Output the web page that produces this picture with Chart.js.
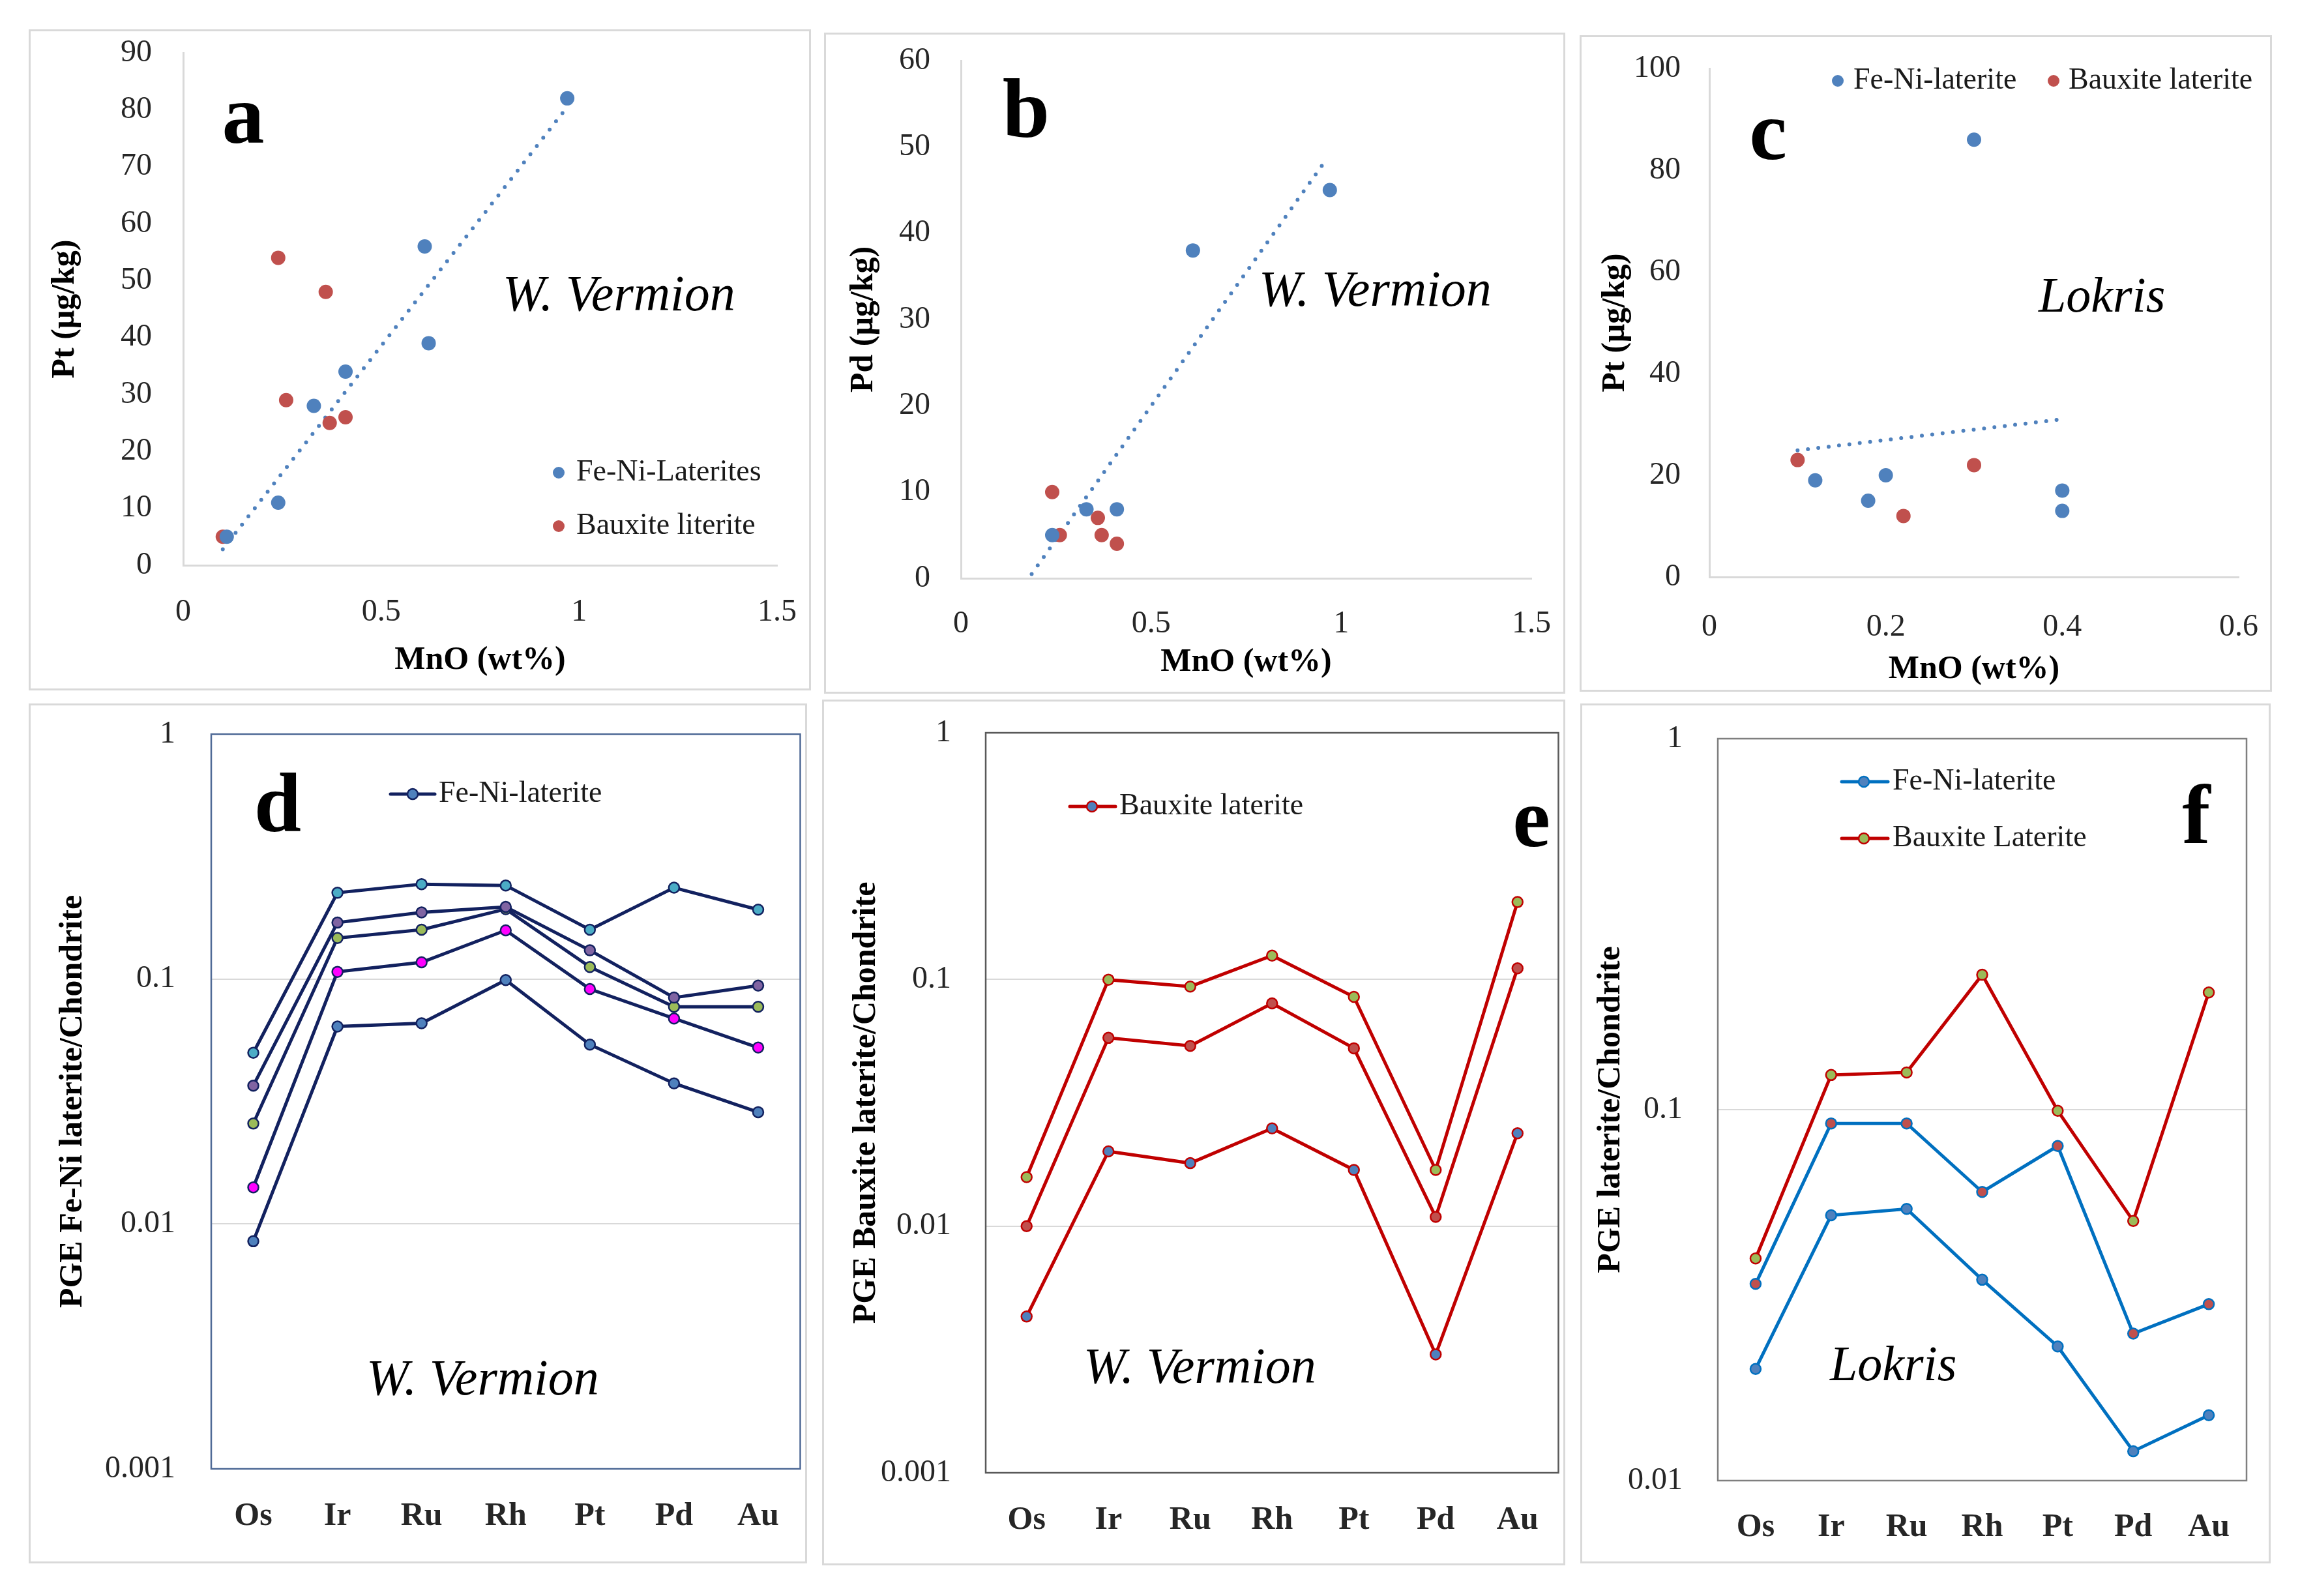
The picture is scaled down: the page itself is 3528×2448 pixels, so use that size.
<!DOCTYPE html>
<html lang="en">
<head>
<meta charset="UTF-8">
<title>PGE and MnO in W. Vermion and Lokris laterites</title>
<script src="https://cdn.jsdelivr.net/npm/chart.js@4.4.1/dist/chart.umd.min.js"></script>
<style>
    html, body { margin: 0; padding: 0; background: #fff; }
    body { width: 3528px; height: 2448px; position: relative; overflow: hidden; }
    canvas { position: absolute; }
</style>
</head>
<body>
<canvas id="chartA"></canvas>
<canvas id="chartB"></canvas>
<canvas id="chartC"></canvas>
<canvas id="chartD"></canvas>
<canvas id="chartE"></canvas>
<canvas id="chartF"></canvas>
<script>
// ---- data ----
// a: W. Vermion, Pt vs MnO
const aFeNiX = [0.97, 0.61, 0.62, 0.41, 0.33, 0.24, 0.11];
const aFeNiY = [82, 56, 39, 34, 28, 11, 5];
const aBauxX = [0.24, 0.36, 0.26, 0.37, 0.41, 0.10];
const aBauxY = [54, 48, 29, 25, 26, 5];
const aTrendX = [0.10, 0.96];
const aTrendY = [2.8, 79.6];

// b: W. Vermion, Pd vs MnO
const bFeNiX = [0.97, 0.61, 0.33, 0.41, 0.24];
const bFeNiY = [45, 38, 8, 8, 5];
const bBauxX = [0.24, 0.26, 0.36, 0.37, 0.41];
const bBauxY = [10, 5, 7, 5, 4];
const bTrendX = [0.186, 0.96];
const bTrendY = [0.5, 48.5];

// c: Lokris, Pt vs MnO
const cFeNiX = [0.30, 0.12, 0.18, 0.20, 0.40, 0.40];
const cFeNiY = [86, 19, 15, 20, 17, 13];
const cBauxX = [0.10, 0.22, 0.30];
const cBauxY = [23, 12, 22];
const cTrendX = [0.10, 0.394];
const cTrendY = [24.9, 30.9];

// d-f: chondrite normalised PGE patterns
const elements = ['Os', 'Ir', 'Ru', 'Rh', 'Pt', 'Pd', 'Au'];
const logTicks3 = [0.001, 0.01, 0.1, 1];
const logTicks2 = [0.01, 0.1, 1];

const dFeNi1 = [0.050, 0.225, 0.244, 0.241, 0.159, 0.236, 0.192];
const dFeNi2 = [0.0367, 0.170, 0.187, 0.197, 0.131, 0.084, 0.094];
const dFeNi3 = [0.0257, 0.147, 0.159, 0.193, 0.112, 0.077, 0.077];
const dFeNi4 = [0.0141, 0.107, 0.117, 0.158, 0.091, 0.069, 0.0525];
const dFeNi5 = [0.0085, 0.064, 0.066, 0.099, 0.054, 0.0375, 0.0286];

const eBaux1 = [0.0158, 0.0998, 0.0936, 0.125, 0.085, 0.0169, 0.206];
const eBaux2 = [0.0100, 0.058, 0.0538, 0.080, 0.0526, 0.0109, 0.111];
const eBaux3 = [0.0043, 0.0201, 0.018, 0.0249, 0.0169, 0.00302, 0.0238];

const fBaux = [0.0397, 0.124, 0.126, 0.231, 0.0993, 0.0501, 0.207];
const fFeNi1 = [0.0339, 0.0918, 0.0918, 0.060, 0.0798, 0.0249, 0.0299];
const fFeNi2 = [0.0200, 0.0519, 0.054, 0.0348, 0.0230, 0.0120, 0.0150];

// ---- styling ----
const serif = '"Liberation Serif", "Times New Roman", serif';
const blue = '#4F81BD';
const red = '#C0504D';
const navy = '#12215F';
const darkRed = '#C00000';
const lineBlue = '#0070C0';
const tickColor = '#262626';

const pts = (xs, ys) => xs.map((x, i) => ({ x: x, y: ys[i] }));

// panel frame, plot frame, in-plot legend and labels
const decor = {
    id: 'decor',
    beforeDraw(chart) {
        const c = chart.ctx;
        c.save();
        c.fillStyle = '#ffffff';
        c.fillRect(0, 0, chart.width, chart.height);
        c.strokeStyle = '#d9d9d9';
        c.lineWidth = 3;
        c.strokeRect(1.5, 1.5, chart.width - 3, chart.height - 3);
        c.restore();
    },
    beforeDatasetsDraw(chart, args, o) {
        if (!o.frame) return;
        const a = chart.chartArea, c = chart.ctx;
        c.save();
        c.strokeStyle = o.frame;
        c.lineWidth = 2.5;
        c.strokeRect(a.left, a.top, a.right - a.left, a.bottom - a.top);
        c.restore();
    },
    afterDraw(chart, args, o) {
        const c = chart.ctx;
        c.save();
        (o.legend || []).forEach(it => {
            if (it.line) {
                c.strokeStyle = it.line;
                c.lineWidth = 5;
                c.lineCap = 'round';
                c.beginPath();
                c.moveTo(it.x1, it.y);
                c.lineTo(it.x2, it.y);
                c.stroke();
            }
            c.beginPath();
            c.arc(it.mx, it.y, it.r, 0, Math.PI * 2);
            c.fillStyle = it.fill;
            c.fill();
            if (it.border) {
                c.strokeStyle = it.border;
                c.lineWidth = 2.5;
                c.stroke();
            }
            c.fillStyle = '#1a1a1a';
            c.font = '46px ' + serif;
            c.textAlign = 'left';
            c.textBaseline = 'middle';
            c.fillText(it.text, it.tx, it.y);
        });
        (o.labels || []).forEach(l => {
            c.fillStyle = '#000';
            c.font = l.font;
            c.textAlign = l.align || 'left';
            c.textBaseline = 'middle';
            c.fillText(l.text, l.x, l.y);
        });
        c.restore();
    }
};

function setup(id, box) {
    const cv = document.getElementById(id);
    cv.width = box.w;
    cv.height = box.h;
    cv.style.left = box.left + 'px';
    cv.style.top = box.top + 'px';
    cv.style.width = box.w + 'px';
    cv.style.height = box.h + 'px';
    return cv;
}

function baseOptions(box, area, decorOpts) {
    return {
        responsive: false,
        animation: false,
        devicePixelRatio: 1,
        events: [],
        layout: { padding: { left: 0, top: area.t, right: box.w - area.r, bottom: 0 } },
        plugins: { legend: { display: false }, tooltip: { enabled: false }, decor: decorOpts }
    };
}

// fixed axis boxes so the plot area sits where it does in the figure
function fitX(box, area) {
    return s => { s.height = box.h - area.b; s.paddingLeft = 0; s.paddingRight = 0; };
}
function fitY(area) {
    return s => { s.width = area.l; s.paddingTop = 0; s.paddingBottom = 0; };
}

function scatterPanel(id, box, area, ax, sets, decorOpts) {
    const cv = setup(id, box);
    const opts = baseOptions(box, area, decorOpts);
    opts.scales = {
        x: {
            type: 'linear', min: ax.xMin, max: ax.xMax,
            ticks: { stepSize: ax.xStep, padding: ax.xPad, color: tickColor, font: { family: serif, size: 48 },
                     callback: v => String(Math.round(v * 100) / 100) },
            grid: { display: false, drawTicks: false },
            border: { display: true, color: '#d9d9d9', width: 3 },
            title: { display: true, text: 'MnO (wt%)', color: '#000', font: { family: serif, size: 50, weight: 'bold' }, padding: { top: 0, bottom: ax.xTitlePad } },
            afterFit: fitX(box, area)
        },
        y: {
            type: 'linear', min: ax.yMin, max: ax.yMax,
            ticks: { stepSize: ax.yStep, padding: ax.yPad, color: tickColor, font: { family: serif, size: 48 } },
            grid: { display: false, drawTicks: false },
            border: { display: true, color: '#d9d9d9', width: 3 },
            title: { display: true, text: ax.yTitle, color: '#000', font: { family: serif, size: 50, weight: 'bold' }, padding: { top: ax.yTitlePad, bottom: 0 } },
            afterFit: fitY(area)
        }
    };
    return new Chart(cv, {
        type: 'scatter',
        data: {
            datasets: [
                { label: sets.feLabel, data: sets.fe, pointRadius: 11, pointBackgroundColor: blue, pointBorderWidth: 0 },
                { label: sets.bxLabel, data: sets.bx, pointRadius: 11, pointBackgroundColor: red, pointBorderWidth: 0 },
                { label: 'Linear trend', data: sets.trend, showLine: true, pointRadius: 0, borderColor: blue, borderWidth: 6, borderDash: [0, 16], borderCapStyle: 'round' }
            ]
        },
        options: opts,
        plugins: [decor]
    });
}

function patternPanel(id, box, area, ax, datasets, decorOpts) {
    const cv = setup(id, box);
    const opts = baseOptions(box, area, decorOpts);
    opts.scales = {
        x: {
            type: 'category', offset: true,
            ticks: { padding: ax.xPad, color: tickColor, font: { family: serif, size: 50, weight: 'bold' } },
            grid: { display: false, drawTicks: false },
            border: { display: false },
            afterFit: fitX(box, area)
        },
        y: {
            type: 'logarithmic', min: ax.yMin, max: ax.yMax,
            afterBuildTicks: s => { s.ticks = ax.yTicks.map(v => ({ value: v })); },
            ticks: { padding: ax.yPad, color: tickColor, font: { family: serif, size: 48 }, callback: v => String(v) },
            grid: { color: '#d9d9d9', lineWidth: 2, drawTicks: false },
            border: { display: false },
            title: { display: true, text: ax.yTitle, color: '#000', font: { family: serif, size: 50, weight: 'bold' }, padding: { top: ax.yTitlePad, bottom: 0 } },
            afterFit: fitY(area)
        }
    };
    return new Chart(cv, {
        type: 'line',
        data: { labels: elements, datasets: datasets },
        options: opts,
        plugins: [decor]
    });
}

function patternSet(label, values, lineColor, fill, border) {
    return {
        label: label, data: values, borderColor: lineColor, borderWidth: 5, tension: 0, fill: false,
        pointRadius: 8, pointBackgroundColor: fill, pointBorderColor: border, pointBorderWidth: 2.5
    };
}

const bigFont = 'bold 130px ' + serif;
const placeFont = 'italic 78px ' + serif;

// ---- a ----
scatterPanel('chartA',
    { left: 44, top: 45, w: 1200, h: 1014 },
    { l: 237, t: 36, r: 1148, b: 822 },
    { xMin: 0, xMax: 1.5, xStep: 0.5, yMin: 0, yMax: 90, yStep: 10, xPad: 44, yPad: 48, xTitlePad: 16, yTitlePad: 26, yTitle: 'Pt (μg/kg)' },
    { fe: pts(aFeNiX, aFeNiY), bx: pts(aBauxX, aBauxY), trend: pts(aTrendX, aTrendY), feLabel: 'Fe-Ni-Laterites', bxLabel: 'Bauxite literite' },
    {
        legend: [
            { mx: 813, y: 680, r: 9, fill: blue, text: 'Fe-Ni-Laterites', tx: 840 },
            { mx: 813, y: 762, r: 9, fill: red, text: 'Bauxite literite', tx: 840 }
        ],
        labels: [
            { text: 'a', x: 329, y: 140, font: bigFont, align: 'center' },
            { text: 'W. Vermion', x: 727, y: 410, font: placeFont }
        ]
    });

// ---- b ----
scatterPanel('chartB',
    { left: 1264, top: 50, w: 1137, h: 1014 },
    { l: 210, t: 43, r: 1085, b: 837 },
    { xMin: 0, xMax: 1.5, xStep: 0.5, yMin: 0, yMax: 60, yStep: 10, xPad: 42, yPad: 47, xTitlePad: 18, yTitlePad: 31, yTitle: 'Pd (μg/kg)' },
    { fe: pts(bFeNiX, bFeNiY), bx: pts(bBauxX, bBauxY), trend: pts(bTrendX, bTrendY), feLabel: 'Fe-Ni-Laterites', bxLabel: 'Bauxite literite' },
    {
        labels: [
            { text: 'b', x: 310, y: 126, font: bigFont, align: 'center' },
            { text: 'W. Vermion', x: 667, y: 398, font: placeFont }
        ]
    });

// ---- c ----
scatterPanel('chartC',
    { left: 2423, top: 54, w: 1062, h: 1007 },
    { l: 199, t: 51, r: 1011, b: 831 },
    { xMin: 0, xMax: 0.6, xStep: 0.2, yMin: 0, yMax: 100, yStep: 20, xPad: 49, yPad: 44, xTitlePad: 4, yTitlePad: 25, yTitle: 'Pt (μg/kg)' },
    { fe: pts(cFeNiX, cFeNiY), bx: pts(cBauxX, cBauxY), trend: pts(cTrendX, cTrendY), feLabel: 'Fe-Ni-laterite', bxLabel: 'Bauxite laterite' },
    {
        legend: [
            { mx: 396, y: 70, r: 9, fill: blue, text: 'Fe-Ni-laterite', tx: 420 },
            { mx: 727, y: 70, r: 9, fill: red, text: 'Bauxite laterite', tx: 750 }
        ],
        labels: [
            { text: 'c', x: 289, y: 156, font: bigFont, align: 'center' },
            { text: 'Lokris', x: 704, y: 404, font: 'italic 76px ' + serif }
        ]
    });

// ---- d ----
patternPanel('chartD',
    { left: 44, top: 1079, w: 1194, h: 1319 },
    { l: 280, t: 47, r: 1187, b: 1174 },
    { yMin: 0.001, yMax: 1, yTicks: logTicks3, xPad: 43, yPad: 55, yTitlePad: 38, yTitle: 'PGE Fe-Ni laterite/Chondrite' },
    [
        patternSet('Fe-Ni-laterite', dFeNi1, navy, '#4BACC6', navy),
        patternSet('Fe-Ni-laterite', dFeNi2, navy, '#8064A2', navy),
        patternSet('Fe-Ni-laterite', dFeNi3, navy, '#9BBB59', navy),
        patternSet('Fe-Ni-laterite', dFeNi4, navy, '#FF00FF', navy),
        patternSet('Fe-Ni-laterite', dFeNi5, navy, '#4F81BD', navy)
    ],
    {
        frame: '#4F6A96',
        legend: [
            { line: navy, x1: 555, x2: 623, mx: 589, y: 139, r: 8, fill: '#4F81BD', border: navy, text: 'Fe-Ni-laterite', tx: 629 }
        ],
        labels: [
            { text: 'd', x: 382, y: 162, font: bigFont, align: 'center' },
            { text: 'W. Vermion', x: 518, y: 1039, font: placeFont }
        ]
    });

// ---- e ----
patternPanel('chartE',
    { left: 1261, top: 1073, w: 1140, h: 1328 },
    { l: 251, t: 51, r: 1138, b: 1186 },
    { yMin: 0.001, yMax: 1, yTicks: logTicks3, xPad: 43, yPad: 53, yTitlePad: 38, yTitle: 'PGE Bauxite laterite/Chondrite' },
    [
        patternSet('Bauxite laterite', eBaux1, darkRed, '#9BBB59', darkRed),
        patternSet('Bauxite laterite', eBaux2, darkRed, '#C0504D', darkRed),
        patternSet('Bauxite laterite', eBaux3, darkRed, '#4F81BD', darkRed)
    ],
    {
        frame: '#595959',
        legend: [
            { line: darkRed, x1: 380, x2: 450, mx: 414, y: 164, r: 8, fill: '#4F81BD', border: darkRed, text: 'Bauxite laterite', tx: 456 }
        ],
        labels: [
            { text: 'e', x: 1088, y: 191, font: bigFont, align: 'center' },
            { text: 'W. Vermion', x: 401, y: 1027, font: placeFont }
        ]
    });

// ---- f ----
patternPanel('chartF',
    { left: 2424, top: 1079, w: 1059, h: 1319 },
    { l: 211, t: 54, r: 1022, b: 1192 },
    { yMin: 0.01, yMax: 1, yTicks: logTicks2, xPad: 42, yPad: 54, yTitlePad: 17, yTitle: 'PGE laterite/Chondrite' },
    [
        patternSet('Bauxite Laterite', fBaux, darkRed, '#9BBB59', darkRed),
        patternSet('Fe-Ni-laterite', fFeNi1, lineBlue, '#C0504D', lineBlue),
        patternSet('Fe-Ni-laterite', fFeNi2, lineBlue, '#4F81BD', lineBlue)
    ],
    {
        frame: '#7F7F7F',
        legend: [
            { line: lineBlue, x1: 401, x2: 472, mx: 435, y: 120, r: 8, fill: '#4F81BD', border: lineBlue, text: 'Fe-Ni-laterite', tx: 479 },
            { line: darkRed, x1: 401, x2: 472, mx: 435, y: 207, r: 8, fill: '#9BBB59', border: darkRed, text: 'Bauxite Laterite', tx: 479 }
        ],
        labels: [
            { text: 'f', x: 945, y: 180, font: bigFont, align: 'center' },
            { text: 'Lokris', x: 383, y: 1018, font: 'italic 76px ' + serif }
        ]
    });
</script>
</body>
</html>
